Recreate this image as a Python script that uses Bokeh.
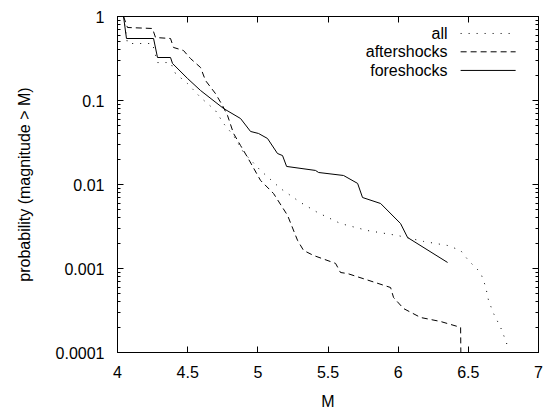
from bokeh.plotting import figure
from bokeh.models import (FixedTicker, CustomJSTickFormatter, LogAxis, LinearAxis,
                          ColumnDataSource)
from bokeh.core.properties import value
from bokeh.embed import file_html
from bokeh.resources import INLINE

# ---- data ----
all_m = [4.043, 4.071, 4.249, 4.285, 4.378, 4.413, 4.499, 4.592, 4.698, 4.756, 4.827,
         4.898, 5.019, 5.162, 5.304, 5.426, 5.589, 5.782, 5.996, 6.181, 6.352, 6.445,
         6.502, 6.587, 6.623, 6.644, 6.680, 6.730, 6.766, 6.787]
all_p = [1.0, 0.477, 0.477, 0.283, 0.283, 0.210, 0.159, 0.1086, 0.076, 0.0532, 0.0383,
         0.0241, 0.0147, 0.00896, 0.00611, 0.00464, 0.00343, 0.00283, 0.00247, 0.00210,
         0.00188, 0.00164, 0.00124, 0.000896, 0.000611, 0.000416, 0.000291, 0.000199,
         0.000139, 0.000109]

after_m = [4.043, 4.071, 4.249, 4.271, 4.378, 4.399, 4.470, 4.520, 4.592, 4.627, 4.698,
           4.748, 4.784, 4.827, 4.877, 4.927, 5.019, 5.112, 5.212, 5.283, 5.326, 5.397,
           5.554, 5.589, 5.639, 5.946, 5.967, 6.038, 6.160, 6.302, 6.445, 6.452]
after_p = [1.0, 0.740, 0.720, 0.562, 0.547, 0.428, 0.394, 0.316, 0.247, 0.173, 0.121,
           0.0872, 0.0663, 0.0405, 0.0291, 0.0210, 0.0112, 0.00781, 0.00428, 0.00216,
           0.00164, 0.00143, 0.00115, 0.000896, 0.000871, 0.000594, 0.000452, 0.000334,
           0.000261, 0.000234, 0.000199, 0.00001]

fore_m = [4.043, 4.064, 4.257, 4.285, 4.378, 4.392, 4.499, 4.592, 4.756, 4.877, 4.948,
          5.005, 5.069, 5.140, 5.176, 5.205, 5.411, 5.433, 5.611, 5.711, 5.746, 5.875,
          6.017, 6.067, 6.352]
fore_p = [1.0, 0.547, 0.547, 0.325, 0.325, 0.276, 0.183, 0.1315, 0.0803, 0.061, 0.0428,
          0.0405, 0.0353, 0.0234, 0.0221, 0.0164, 0.0147, 0.0139, 0.0128, 0.0103, 0.0070,
          0.00594, 0.00343, 0.00234, 0.00118]

series_names = ["all", "aftershocks", "foreshocks"]
x_ticks = [4, 4.5, 5, 5.5, 6, 6.5, 7]
y_ticks = [0.0001, 0.001, 0.01, 0.1, 1]

FONT = "Liberation Sans"
FS = "16px"

p = figure(width=544, height=412, x_range=(4, 7), y_range=(0.0001, 1),
           y_axis_type="log", output_backend="svg", toolbar_location=None,
           min_border_left=117, min_border_right=6, min_border_top=16,
           min_border_bottom=60)
p.background_fill_color = "white"
p.border_fill_color = "white"
p.outline_line_color = "black"
p.outline_line_width = 1
p.grid.visible = False

styles = [dict(line_dash="1 7"), dict(line_dash="6 4"), dict(line_dash="solid")]
for xs, ys, st in zip([all_m, after_m, fore_m], [all_p, after_p, fore_p], styles):
    p.line(xs, ys, line_color="black", line_width=1, **st)

# legend (label left, sample right, as in reference)
leg_y = [0.628, 0.380, 0.228]
leg_src = ColumnDataSource(dict(x=[6.352] * 3, y=leg_y, t=series_names))
p.text(x="x", y="y", text="t", source=leg_src, text_align="right",
       text_baseline="middle", text_font=value(FONT), text_font_size=FS,
       text_color="black")
for yy, st in zip(leg_y, styles):
    p.line([6.445, 6.837], [yy, yy], line_color="black", line_width=1, **st)

minor = [m * 10.0 ** e for e in range(-4, 0) for m in range(2, 10)]
yt = FixedTicker(ticks=y_ticks, minor_ticks=minor)
xt = FixedTicker(ticks=x_ticks, minor_ticks=[])
fmt = CustomJSTickFormatter(code="return tick.toString();")
blank = CustomJSTickFormatter(code="return '';")

def style_axis(ax):
    ax.axis_line_color = "black"
    ax.major_tick_line_color = "black"
    ax.minor_tick_line_color = "black"
    ax.major_tick_in = 6
    ax.major_tick_out = 0
    ax.minor_tick_in = 3
    ax.minor_tick_out = 0
    ax.major_label_text_font = FONT
    ax.major_label_text_font_size = FS
    ax.major_label_text_color = "black"
    ax.axis_label_text_font = FONT
    ax.axis_label_text_font_size = FS
    ax.axis_label_text_font_style = "normal"
    ax.axis_label_text_color = "black"

xa = p.xaxis[0]
ya = p.yaxis[0]
xa.ticker = xt
ya.ticker = yt
xa.formatter = fmt
ya.formatter = fmt
style_axis(xa)
style_axis(ya)
xa.axis_label = "M"
ya.axis_label = "probability (magnitude > M)"
xa.major_label_standoff = 13
ya.major_label_standoff = 13
xa.axis_label_standoff = 12
ya.axis_label_standoff = 20

ra = LogAxis(ticker=yt, formatter=blank)
style_axis(ra)
ra.major_label_standoff = 0
p.add_layout(ra, "right")
ta = LinearAxis(ticker=xt, formatter=blank)
style_axis(ta)
ta.major_label_standoff = 0
p.add_layout(ta, "above")

open("out.html", "w").write(file_html(p, INLINE))
